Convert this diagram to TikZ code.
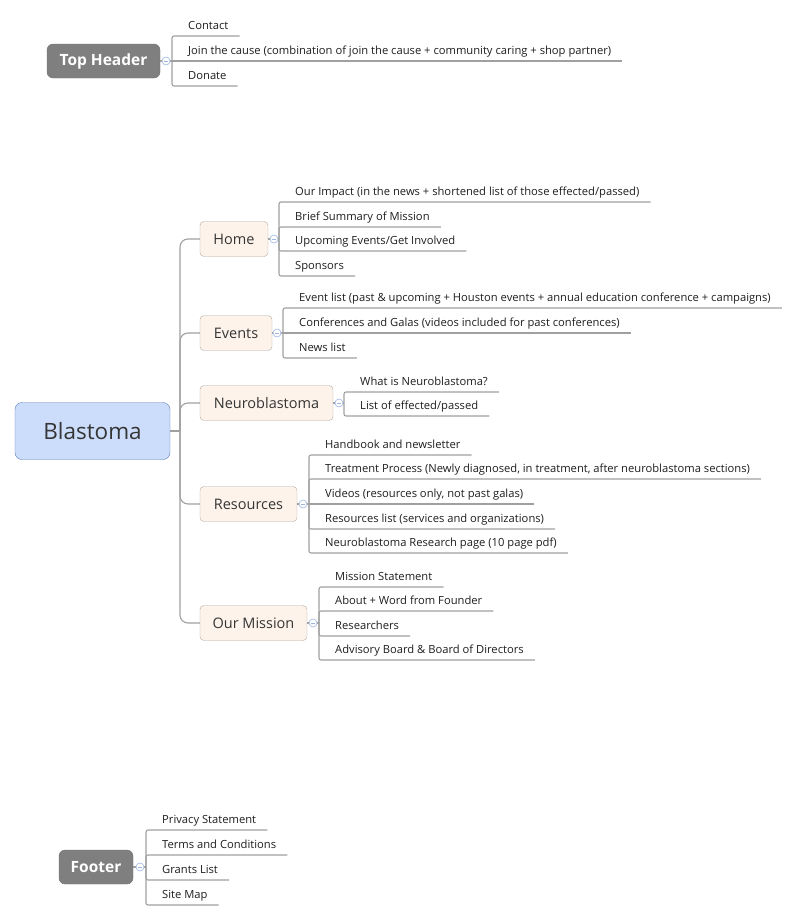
\documentclass[tikz,border=0pt]{standalone}
\usepackage{fontspec}
\setmainfont{Open Sans}
\usetikzlibrary{positioning}
\definecolor{linegray}{HTML}{A0A0A0}
\definecolor{inkgray}{HTML}{1E1E1E}
\definecolor{hdrgray}{HTML}{7F7F7F}
\definecolor{peach}{HTML}{FDF3EA}
\definecolor{peachline}{HTML}{B2AAA2}
\definecolor{rootblue}{HTML}{CCDDFB}
\definecolor{rootline}{HTML}{5C7BB4}
\definecolor{foldblue}{HTML}{9DB6E2}
\tikzset{
  branch/.style={draw=linegray, line width=1.1pt},
  hdrbox/.style={fill=hdrgray, draw=hdrgray!90!black, rounded corners=6pt, minimum height=34pt,
    text=white, font=\fontsize{15.5}{18}\selectfont\bfseries},
  rootbox/.style={fill=rootblue, draw=rootline, rounded corners=7pt, minimum width=155pt,
    minimum height=57pt, text=inkgray!90, font=\fontsize{22.5}{26}\selectfont},
  topicbox/.style={fill=peach, draw=peachline, rounded corners=4pt, minimum height=35pt,
    text=inkgray!90, font=\fontsize{14.5}{17}\selectfont},
  leaf/.style={anchor=south west, inner xsep=11pt, inner ysep=3pt, text height=9pt,
    text depth=3.3pt, text=inkgray, font=\fontsize{11.2}{13}\selectfont},
  fold/.style={circle, draw=foldblue, fill=white, line width=0.6pt, minimum size=8pt, inner sep=0pt,
    path picture={\draw[foldblue, line width=0.6pt] ([xshift=1.8pt]path picture bounding box.west)
      -- ([xshift=-1.8pt]path picture bounding box.east);}}
}
\begin{document}
\begin{tikzpicture}[x=1pt,y=-1pt]
\useasboundingbox (0,0) rectangle (800,919);

% top header
\node [hdrbox, minimum width=113pt] (tophdr) at (103.5,61) {Top Header};
\coordinate (topbar) at (172,61);
\node [leaf] (contact) at (177,36) {Contact};
\node [leaf] (join) at (177,61) {Join the cause (combination of join the cause + community caring + shop partner)};
\node [leaf] (donate) at (177,86) {Donate};
\draw [branch] (tophdr.east) -- (topbar);
\draw [branch, rounded corners=2pt] (topbar) |- (contact.south east);
\draw [branch] (topbar) -- (join.south east);
\draw [branch, rounded corners=2pt] (topbar) |- (donate.south east);
\node [fold] (topfold) at (166,61) {};

% root and trunk
\node [rootbox] (blastoma) at (92.5,431) {Blastoma};
\coordinate (trunk) at (180,431);
\node [topicbox, minimum width=68pt] (home) at (234,239) {Home};
\node [topicbox, minimum width=72pt] (events) at (236,333) {Events};
\node [topicbox, minimum width=133pt] (neuro) at (266.5,403) {Neuroblastoma};
\node [topicbox, minimum width=97pt] (resources) at (248.5,504) {Resources};
\node [topicbox, minimum width=107pt] (mission) at (253.5,623) {Our Mission};
\draw [branch] (blastoma.east) -- (trunk);
\draw [branch, rounded corners=8pt] (trunk) |- (home.west);
\draw [branch, rounded corners=8pt] (trunk) |- (events.west);
\draw [branch, rounded corners=8pt] (trunk) |- (neuro.west);
\draw [branch, rounded corners=8pt] (trunk) |- (resources.west);
\draw [branch, rounded corners=8pt] (trunk) |- (mission.west);

% home
\coordinate (homebar) at (279,239);
\node [leaf] (impact) at (284,202) {Our Impact (in the news + shortened list of those effected/passed)};
\node [leaf] (summary) at (284,227) {Brief Summary of Mission};
\node [leaf] (upcoming) at (284,251) {Upcoming Events/Get Involved};
\node [leaf] (sponsors) at (284,276) {Sponsors};
\draw [branch] (home.east) -- (homebar);
\draw [branch, rounded corners=2pt] (homebar) |- (impact.south east);
\draw [branch, rounded corners=2pt] (homebar) |- (summary.south east);
\draw [branch, rounded corners=2pt] (homebar) |- (upcoming.south east);
\draw [branch, rounded corners=2pt] (homebar) |- (sponsors.south east);
\node [fold] (homefold) at (274,239) {};

% events
\coordinate (eventsbar) at (283,333);
\node [leaf] (eventlist) at (288,308) {Event list (past \& upcoming + Houston events + annual education conference + campaigns)};
\node [leaf] (galas) at (288,333) {Conferences and Galas (videos included for past conferences)};
\node [leaf] (news) at (288,358) {News list};
\draw [branch] (events.east) -- (eventsbar);
\draw [branch, rounded corners=2pt] (eventsbar) |- (eventlist.south east);
\draw [branch] (eventsbar) -- (galas.south east);
\draw [branch, rounded corners=2pt] (eventsbar) |- (news.south east);
\node [fold] (eventsfold) at (277,333) {};

% neuroblastoma
\coordinate (neurobar) at (344,403);
\node [leaf] (whatis) at (349,392) {What is Neuroblastoma?};
\node [leaf] (effected) at (349,416) {List of effected/passed};
\draw [branch] (neuro.east) -- (neurobar);
\draw [branch, rounded corners=2pt] (neurobar) |- (whatis.south east);
\draw [branch, rounded corners=2pt] (neurobar) |- (effected.south east);
\node [fold] (neurofold) at (339,403) {};

% resources
\coordinate (resbar) at (309,504);
\node [leaf] (handbook) at (314,455) {Handbook and newsletter};
\node [leaf] (treatment) at (314,479) {Treatment Process (Newly diagnosed, in treatment, after neuroblastoma sections)};
\node [leaf] (videos) at (314,504) {Videos (resources only, not past galas)};
\node [leaf] (reslist) at (314,529) {Resources list (services and organizations)};
\node [leaf] (research) at (314,553) {Neuroblastoma Research page (10 page pdf)};
\draw [branch] (resources.east) -- (resbar);
\draw [branch, rounded corners=2pt] (resbar) |- (handbook.south east);
\draw [branch, rounded corners=2pt] (resbar) |- (treatment.south east);
\draw [branch] (resbar) -- (videos.south east);
\draw [branch, rounded corners=2pt] (resbar) |- (reslist.south east);
\draw [branch, rounded corners=2pt] (resbar) |- (research.south east);
\node [fold] (resfold) at (303,504) {};

% our mission
\coordinate (missionbar) at (319,623);
\node [leaf] (statement) at (324,587) {Mission Statement};
\node [leaf] (founder) at (324,611) {About + Word from Founder};
\node [leaf] (researchers) at (324,636) {Researchers};
\node [leaf] (board) at (324,660) {Advisory Board \& Board of Directors};
\draw [branch] (mission.east) -- (missionbar);
\draw [branch, rounded corners=2pt] (missionbar) |- (statement.south east);
\draw [branch, rounded corners=2pt] (missionbar) |- (founder.south east);
\draw [branch, rounded corners=2pt] (missionbar) |- (researchers.south east);
\draw [branch, rounded corners=2pt] (missionbar) |- (board.south east);
\node [fold] (missionfold) at (313,623) {};

% footer
\node [hdrbox, minimum width=74pt] (footer) at (96,867) {Footer};
\coordinate (footbar) at (146,867);
\node [leaf] (privacy) at (151,830) {Privacy Statement};
\node [leaf] (terms) at (151,855) {Terms and Conditions};
\node [leaf] (grants) at (151,880) {Grants List};
\node [leaf] (sitemap) at (151,905) {Site Map};
\draw [branch] (footer.east) -- (footbar);
\draw [branch, rounded corners=2pt] (footbar) |- (privacy.south east);
\draw [branch, rounded corners=2pt] (footbar) |- (terms.south east);
\draw [branch, rounded corners=2pt] (footbar) |- (grants.south east);
\draw [branch, rounded corners=2pt] (footbar) |- (sitemap.south east);
\node [fold] (footfold) at (140,867) {};
\end{tikzpicture}
\end{document}
